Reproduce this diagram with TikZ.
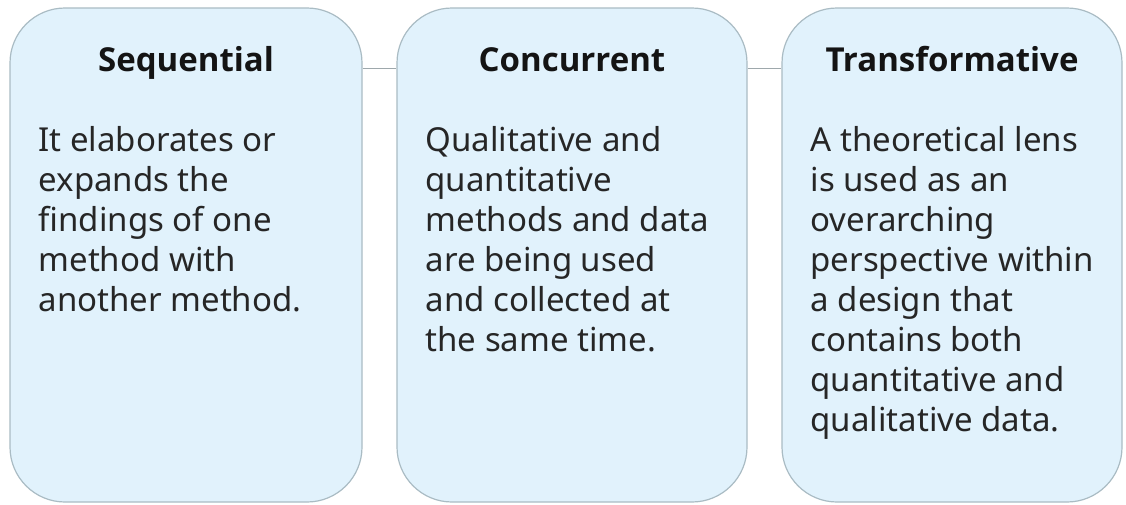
\documentclass[tikz,border=0pt]{standalone}
\usepackage{fontspec}
\setmainfont{Noto Sans}
\newfontfamily\headfont{Open Sans}
\usetikzlibrary{calc}

\definecolor{panelfill}{RGB}{225,242,252}
\definecolor{panelline}{RGB}{170,188,196}
\definecolor{linkline}{RGB}{158,168,172}
\definecolor{ink}{RGB}{38,38,38}
\definecolor{headink}{RGB}{20,20,20}

\begin{document}
\begin{tikzpicture}[x=1pt,y=-1pt,
  panel/.style={draw=panelline, line width=1.2pt, fill=panelfill,
    rounded corners=55pt, minimum height=494pt, inner sep=0pt},
  heading/.style={anchor=base, inner sep=0pt, text=headink,
    font=\headfont\fontsize{33}{39}\selectfont\bfseries},
  bodytext/.style={anchor=base west, inner sep=0pt, text=ink, align=left,
    font=\fontsize{33}{40}\selectfont},
  link/.style={draw=linkline, line width=1pt}]
\useasboundingbox (0,0) rectangle (1126,504);
\fill[white] (0,0) rectangle (1126,504);

% three panels
\node[panel, minimum width=352pt] (p1) at (186,255) {};
\node[panel, minimum width=350pt] (p2) at (572,255) {};
\node[panel, minimum width=340pt] (p3) at (952,255) {};

% thin links between neighbouring panels
\draw[link] ($(p1.north east)+(0,61)$) -- ($(p2.north west)+(0,61)$);
\draw[link] ($(p2.north east)+(0,61)$) -- ($(p3.north west)+(0,61)$);

% headings
\node[heading] (h1) at ($(p1.north)+(0,64.5)$) {Sequential};
\node[heading] (h2) at ($(p2.north)+(0,64.5)$) {Concurrent};
\node[heading] (h3) at ($(p3.north)+(0,64.5)$) {Transformative};

% descriptions (anchored at the baseline of their last line;
% first lines sit 144pt below the panel tops, 40pt per line)
\node[bodytext] (b1) at ($(p1.north west)+(29,144+4*40)$)
  {It elaborates or\\expands the\\findings of one\\method with\\another method.};
\node[bodytext] (b2) at ($(p2.north west)+(29,144+5*40)$)
  {Qualitative and\\quantitative\\methods and data\\are being used\\and collected at\\the same time.};
\node[bodytext] (b3) at ($(p3.north west)+(29,144+7*40)$)
  {A theoretical lens\\is used as an\\overarching\\perspective within\\a design that\\contains both\\quantitative and\\qualitative data.};
\end{tikzpicture}
\end{document}
